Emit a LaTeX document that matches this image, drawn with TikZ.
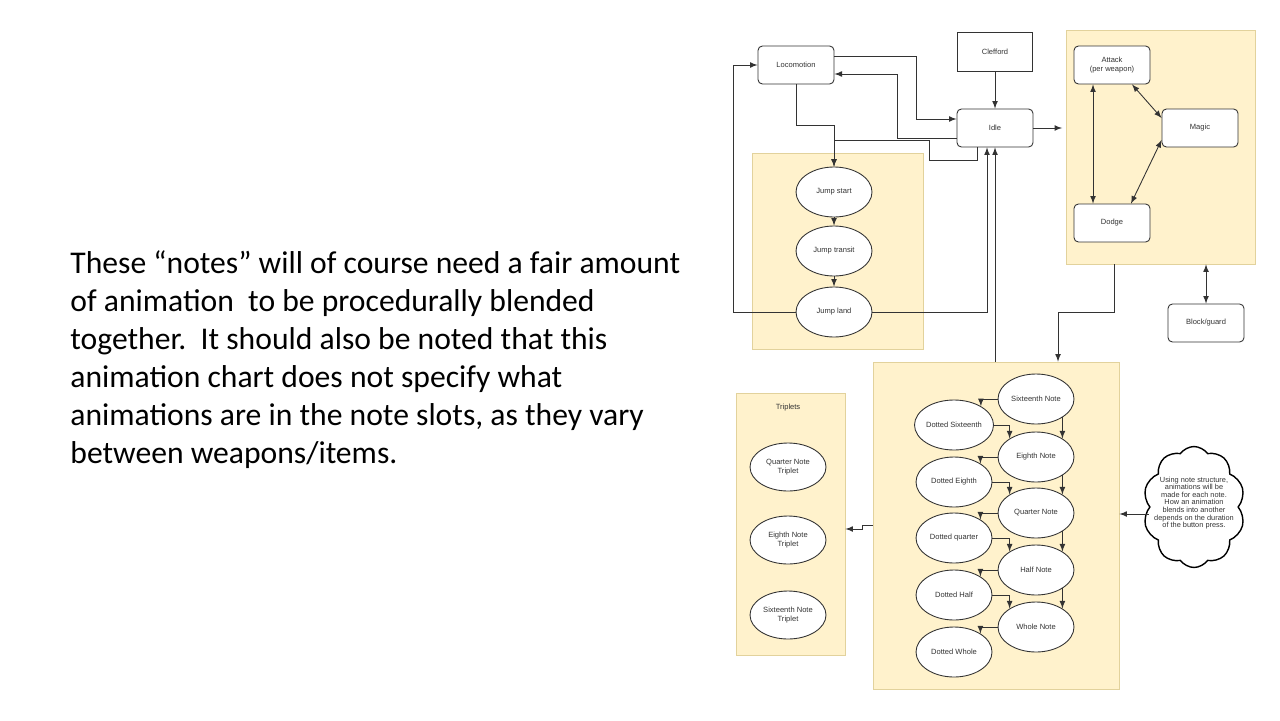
\documentclass[tikz,border=0pt]{standalone}
\usepackage{fontspec}
\usetikzlibrary{shapes.geometric,shapes.symbols}
\newfontfamily\slidefont{Carlito}
\newfontfamily\chartfont{Liberation Sans}
\definecolor{zonefill}{HTML}{FFF2CC}
\definecolor{zoneline}{HTML}{E2D29C}
\definecolor{ink}{HTML}{333333}
\begin{document}
\begin{tikzpicture}
    [
        x={(0.02cm,0)}, y={(0,-0.02cm)},
        >=latex,
        line width=0.5pt,
        edge/.style={->, draw=ink},
        both/.style={<->, draw=ink},
        zone/.style={rectangle, draw=zoneline, fill=zonefill, inner sep=0pt,},
        chart/.style={font=\chartfont\fontsize{4.3}{5.2}\selectfont, text=ink,},
        state/.style={chart, rectangle, rounded corners=2.5pt, draw=ink, fill=white, align=center,
            minimum width=1.52cm, minimum height=0.76cm,},
        plainbox/.style={chart, rectangle, draw=ink, fill=white, minimum width=1.5cm, minimum height=0.78cm,},
        note/.style={chart, ellipse, draw=ink, fill=white, inner sep=0pt, align=center,
            minimum width=1.52cm, minimum height=1cm,},
        triplet/.style={note, minimum height=0.96cm,},
        thought/.style={cloud, cloud puffs=10, cloud puff arc=110, aspect=0.85, draw=black, fill=white,
            line width=0.8pt, minimum width=2.04cm, minimum height=2.42cm,},
    ]

    \useasboundingbox[fill=white] (0,0) rectangle (1280,720);

    % slide text
    \node (notetext) at (70,250) [anchor=north west, inner sep=0pt, align=left,
        font=\slidefont\fontsize{18}{21.6}\selectfont]
        {These “notes” will of course need a fair amount\\
         of animation\ \ to be procedurally blended\\
         together.\ \ It should also be noted that this\\
         animation chart does not specify what\\
         animations are in the note slots, as they vary\\
         between weapons/items.};

    % zones
    \node (jzone) at (837.5,251)  [zone, minimum width=3.42cm, minimum height=3.92cm] {};
    \node (azone) at (1160.5,147) [zone, minimum width=3.78cm, minimum height=4.68cm] {};
    \node (nzone) at (996,525.5)  [zone, minimum width=4.92cm, minimum height=6.54cm] {};
    \node (tzone) at (790.5,524)  [zone, minimum width=2.18cm, minimum height=5.24cm] {};

    % movement
    \node (loco)  at (796,65)  [state] {Locomotion};
    \node (cleff) at (995,52)  [plainbox] {Clefford};
    \node (idle)  at (995,128) [state] {Idle};

    \node (jstart) at (834,192) [note] {Jump start};
    \node (jtrans) at (834,251) [note] {Jump transit};
    \node (jland)  at (834,312) [note] {Jump land};

    \draw[edge] (loco.east |- 0,56) -| (916,119) -- (idle.west |- 0,119);
    \draw[edge] (idle.west |- 0,138) -| (897,74) -- (loco.east |- 0,74);
    \draw[edge] (loco.south) |- (834,125) -- (jstart.north);
    \draw[edge] (idle.south -| 977,0) |- (929,160) -- (929,140) -| (jstart.north);
    \draw[edge] (jland.west) -| (733,65) -- (loco.west);
    \draw[edge] (jland.east) -| (idle.south -| 987,0);

    \path
    (cleff)  edge [edge] (idle)
    (jstart) edge [edge] (jtrans)
    (jtrans) edge [edge] (jland);

    % combat
    \node (attack) at (1112,65)  [state] {Attack\\(per weapon)};
    \node (magic)  at (1200,128) [state] {Magic};
    \node (dodge)  at (1112,223) [state] {Dodge};
    \node (block)  at (1206,323) [state] {Block/guard};

    \path
    (idle.east)            edge [edge, shorten >=2pt] (azone.west |- idle.east)
    (attack.south -| 1093,0) edge [both] (dodge.north -| 1093,0)
    (attack.south -| 1132,0) edge [both] (magic.west |- 0,118)
    (magic.west |- 0,140)  edge [both] (dodge.north -| 1131,0)
    (block.north)          edge [both] (azone.south -| block.north);

    \draw[edge] (azone.south -| 1114,0) |- (1058,312) -- (nzone.north -| 1058,0);
    \draw[edge] (nzone.north -| idle.south) -- (idle.south);

    % notes
    \node (n16) at (1036,399) [note] {Sixteenth Note};
    \node (d16) at (954,425)  [note] {Dotted Sixteenth};
    \node (n8)  at (1036,457) [note] {Eighth Note};
    \node (d8)  at (954,482)  [note] {Dotted Eighth};
    \node (n4)  at (1036,513) [note] {Quarter Note};
    \node (d4)  at (954,538)  [note] {Dotted quarter};
    \node (n2)  at (1036,570) [note] {Half Note};
    \node (d2)  at (954,595)  [note] {Dotted Half};
    \node (n1)  at (1036,627) [note] {Whole Note};
    \node (d1)  at (954,652)  [note] {Dotted Whole};

    \draw[edge] (n16.west) -| (d16.35);
    \draw[edge] (d16.east) -| (n8.145);
    \draw[edge] (n16.-35)  -- (n8.35);
    \draw[edge] (n8.west)  -| (d8.35);
    \draw[edge] (d8.east)  -| (n4.145);
    \draw[edge] (n8.-35)   -- (n4.35);
    \draw[edge] (n4.west)  -| (d4.35);
    \draw[edge] (d4.east)  -| (n2.145);
    \draw[edge] (n4.-35)   -- (n2.35);
    \draw[edge] (n2.west)  -| (d2.35);
    \draw[edge] (d2.east)  -| (n1.145);
    \draw[edge] (n2.-35)   -- (n1.35);
    \draw[edge] (n1.west)  -| (d1.35);

    % triplets
    \node (ttitle) at (788,408) [chart] {Triplets};
    \node (t4)  at (788,467) [triplet] {Quarter Note\\Triplet};
    \node (t8)  at (788,540) [triplet] {Eighth Note\\Triplet};
    \node (t16) at (788,615) [triplet] {Sixteenth Note\\Triplet};

    \draw[edge] (nzone.west |- 0,525) -- (862,525) |- (tzone.east |- 0,529);

    % cloud
    \node (cloud) at (1194,507) [thought] {};
    \node (cloudtext) at (1194,503) [chart, align=center, inner sep=0pt,
        font=\chartfont\fontsize{4.2}{4.3}\selectfont]
        {Using note structure,\\animations will be\\made for each note.\\How an animation\\blends into another\\depends on the duration\\of the button press.};
    \draw[edge] (cloud.west |- 0,514) -- (nzone.east |- 0,514);

\end{tikzpicture}
\end{document}
